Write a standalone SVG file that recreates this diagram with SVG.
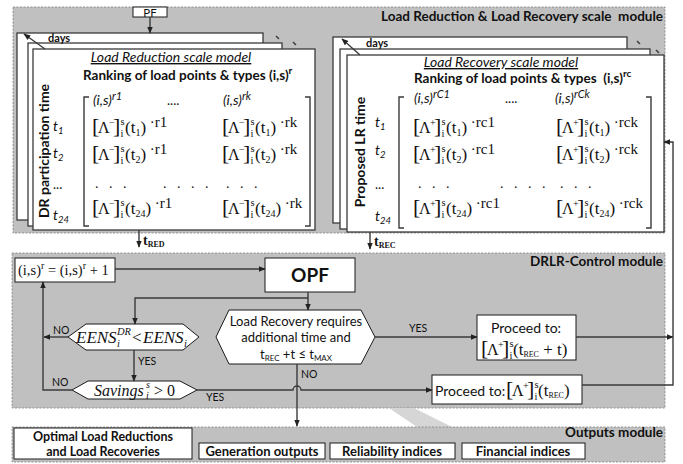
<svg xmlns="http://www.w3.org/2000/svg" width="683" height="464" viewBox="0 0 683 464">
<defs>
<style>
.mod{fill:#c0c0c0;stroke:#808080;stroke-width:0.8;stroke-dasharray:2 1.5}
.page{fill:#fff;stroke:#3a3a3a;stroke-width:1.3}
.box{fill:#fff;stroke:#1a1a1a;stroke-width:1}
.ln{fill:none;stroke:#3a3a3a;stroke-width:1.4}
.ar{marker-end:url(#ah)}
.c{font-family:Lato,"Liberation Sans",sans-serif;fill:#111}
.b{font-weight:bold}
.i{font-style:italic}
.s{font-family:"Liberation Serif","Times New Roman",serif;fill:#111}
</style>
<marker id="ah" viewBox="0 0 10 10" refX="9" refY="5" markerWidth="7" markerHeight="7" orient="auto" markerUnits="userSpaceOnUse"><path d="M0,1 L10,5 L0,9 z" fill="#222"/></marker>
<g id="lm"><text class="s" font-size="22" x="-1" y="0">[</text><text class="s" font-size="16" x="5" y="0">Λ</text><text class="s" font-size="10" x="16" y="-7">−</text><text class="s" font-size="22" x="20" y="0">]</text><text class="s" font-size="10.5" x="27.5" y="-8">s</text><text class="s" font-size="10.5" x="27.5" y="4">i</text></g>
<g id="lp"><text class="s" font-size="22" x="-1" y="0">[</text><text class="s" font-size="16" x="5" y="0">Λ</text><text class="s" font-size="10" x="16" y="-7">+</text><text class="s" font-size="22" x="20" y="0">]</text><text class="s" font-size="10.5" x="27.5" y="-8">s</text><text class="s" font-size="10.5" x="27.5" y="4">i</text></g>
</defs>
<rect width="683" height="464" fill="#fff"/>

<g id="top-module">
<rect class="mod" x="13" y="7" width="652" height="226"/>
<text class="c b" font-size="13.5" x="663" y="21" text-anchor="end" xml:space="preserve">Load Reduction &amp; Load Recovery scale  module</text>
</g>

<g id="pf">
<rect class="box" x="133" y="7" width="34" height="10"/>
<text class="c" font-size="11.5" x="150" y="16.5" text-anchor="middle">PF</text>
</g>

<g id="load-reduction-model">
<rect class="page" x="17" y="33" width="246" height="187"/>
<rect class="page" x="28" y="43" width="254" height="183"/>
<rect class="page" x="33" y="49" width="282" height="181"/>
<text class="c b" font-size="11" x="48" y="42">days</text>
<line class="ln" x1="45" y1="49" x2="24" y2="34" stroke-width="1" marker-end="url(#ah)"/>
<line class="ln" x1="276" y1="36" x2="279" y2="39" stroke-width="1"/>
<line class="ln" x1="293" y1="42" x2="296" y2="45" stroke-width="1"/>
<text class="c i" font-size="14" x="171" y="62" text-anchor="middle" text-decoration="underline">Load Reduction scale model</text>
<text class="c b" font-size="13.5" x="83" y="80">Ranking of load points &amp; types (i,s)<tspan font-size="10" dy="-6">r</tspan></text>
<text class="c b" font-size="14" transform="translate(49,151) rotate(-90)" text-anchor="middle">DR participation time</text>
<text class="c i" font-size="14" x="93" y="105">(i,s)<tspan font-size="11" dy="-5">r1</tspan></text>
<text class="c" font-size="13" x="167" y="105">....</text>
<text class="c i" font-size="14" x="223" y="105">(i,s)<tspan font-size="11" dy="-5">rk</tspan></text>
<text class="c i" font-size="14" x="53" y="131">t<tspan font-size="9.5" dy="3">1</tspan></text>
<text class="c i" font-size="14" x="53" y="158">t<tspan font-size="9.5" dy="3">2</tspan></text>
<text class="c" font-size="13" x="53" y="189">...</text>
<text class="c i" font-size="14" x="53" y="220">t<tspan font-size="9.5" dy="3">24</tspan></text>
<path class="ln" d="M89,97 H84 V226 H89 M305,97 H310 V226 H305"/>
<use href="#lm" x="93" y="133"/>
<text class="s" font-size="17" x="125" y="133">(t<tspan font-size="10" dy="3">1</tspan><tspan dy="-3">)</tspan><tspan font-size="15" dy="-6"> ·r1</tspan></text>
<use href="#lm" x="223" y="133"/>
<text class="s" font-size="17" x="255" y="133">(t<tspan font-size="10" dy="3">1</tspan><tspan dy="-3">)</tspan><tspan font-size="15" dy="-6"> ·rk</tspan></text>
<use href="#lm" x="93" y="160"/>
<text class="s" font-size="17" x="125" y="160">(t<tspan font-size="10" dy="3">2</tspan><tspan dy="-3">)</tspan><tspan font-size="15" dy="-6"> ·r1</tspan></text>
<use href="#lm" x="223" y="160"/>
<text class="s" font-size="17" x="255" y="160">(t<tspan font-size="10" dy="3">2</tspan><tspan dy="-3">)</tspan><tspan font-size="15" dy="-6"> ·rk</tspan></text>
<text class="s" font-size="14" x="95" y="188" xml:space="preserve">.   .   .</text>
<text class="s" font-size="14" x="163" y="188" xml:space="preserve">.   .   .   .</text>
<text class="s" font-size="14" x="226" y="188" xml:space="preserve">.   .   .</text>
<use href="#lm" x="93" y="214"/>
<text class="s" font-size="17" x="125" y="214">(t<tspan font-size="10" dy="3">24</tspan><tspan dy="-3">)</tspan><tspan font-size="15" dy="-6"> ·r1</tspan></text>
<use href="#lm" x="223" y="214"/>
<text class="s" font-size="17" x="255" y="214">(t<tspan font-size="10" dy="3">24</tspan><tspan dy="-3">)</tspan><tspan font-size="15" dy="-6"> ·rk</tspan></text>
</g>

<g id="load-recovery-model">
<rect class="page" x="333" y="37" width="294" height="186"/>
<rect class="page" x="340" y="49" width="310" height="180"/>
<rect class="page" x="347" y="55" width="317" height="177"/>
<text class="c b" font-size="11" x="366" y="47">days</text>
<line class="ln" x1="360" y1="55" x2="342" y2="39" stroke-width="1" marker-end="url(#ah)"/>
<line class="ln" x1="637" y1="41" x2="640" y2="44" stroke-width="1"/>
<line class="ln" x1="656" y1="50" x2="659" y2="53" stroke-width="1"/>
<text class="c i" font-size="14" x="501" y="67" text-anchor="middle" text-decoration="underline">Load Recovery scale model</text>
<text class="c b" font-size="13.5" x="414" y="83" xml:space="preserve">Ranking of load points &amp; types  (i,s)<tspan font-size="10" dy="-6">rc</tspan></text>
<text class="c b" font-size="14" transform="translate(365,152) rotate(-90)" text-anchor="middle">Proposed LR time</text>
<text class="c i" font-size="14" x="414" y="103">(i,s)<tspan font-size="11" dy="-5">rC1</tspan></text>
<text class="c" font-size="13" x="505" y="103">....</text>
<text class="c i" font-size="14" x="555" y="103">(i,s)<tspan font-size="11" dy="-5">rCk</tspan></text>
<text class="c i" font-size="14" x="375" y="127">t<tspan font-size="9.5" dy="3">1</tspan></text>
<text class="c i" font-size="14" x="375" y="155">t<tspan font-size="9.5" dy="3">2</tspan></text>
<text class="c" font-size="13" x="375" y="189">...</text>
<text class="c i" font-size="14" x="375" y="221">t<tspan font-size="9.5" dy="3">24</tspan></text>
<path class="ln" d="M404,97 H399 V228 H404 M646,97 H651 V228 H646"/>
<use href="#lp" x="414" y="133"/>
<text class="s" font-size="17" x="446" y="133">(t<tspan font-size="10" dy="3">1</tspan><tspan dy="-3">)</tspan><tspan font-size="15" dy="-6"> ·rc1</tspan></text>
<use href="#lp" x="557" y="133"/>
<text class="s" font-size="17" x="589" y="133">(t<tspan font-size="10" dy="3">1</tspan><tspan dy="-3">)</tspan><tspan font-size="15" dy="-6"> ·rck</tspan></text>
<use href="#lp" x="414" y="160"/>
<text class="s" font-size="17" x="446" y="160">(t<tspan font-size="10" dy="3">2</tspan><tspan dy="-3">)</tspan><tspan font-size="15" dy="-6"> ·rc1</tspan></text>
<use href="#lp" x="557" y="160"/>
<text class="s" font-size="17" x="589" y="160">(t<tspan font-size="10" dy="3">2</tspan><tspan dy="-3">)</tspan><tspan font-size="15" dy="-6"> ·rck</tspan></text>
<text class="s" font-size="14" x="418" y="188" xml:space="preserve">.   .   .</text>
<text class="s" font-size="14" x="500" y="188" xml:space="preserve">.   .   .   .</text>
<text class="s" font-size="14" x="560" y="188" xml:space="preserve">.   .   .</text>
<use href="#lp" x="414" y="214"/>
<text class="s" font-size="17" x="446" y="214">(t<tspan font-size="10" dy="3">24</tspan><tspan dy="-3">)</tspan><tspan font-size="15" dy="-6"> ·rc1</tspan></text>
<use href="#lp" x="557" y="214"/>
<text class="s" font-size="17" x="589" y="214">(t<tspan font-size="10" dy="3">24</tspan><tspan dy="-3">)</tspan><tspan font-size="15" dy="-6"> ·rck</tspan></text>
</g>

<g id="drlr-module">
<rect class="mod" x="12" y="253" width="653" height="155"/>
<text class="c b" font-size="13.5" x="663" y="266" text-anchor="end">DRLR-Control module</text>
</g>

<polygon points="389,408 414,408 452,427 417,427" fill="#d6d6d6"/>

<g id="outputs-module">
<rect class="mod" x="12" y="427" width="653" height="35"/>
<text class="c b" font-size="13.5" x="663" y="437" text-anchor="end">Outputs module</text>
</g>

<g id="update-rank">
<rect class="box" x="15" y="258" width="100" height="24"/>
<text class="s" font-size="14.5" x="18" y="275">(i,s)<tspan font-size="10" dy="-6">r</tspan><tspan dy="6"> = (i,s)</tspan><tspan font-size="10" dy="-6">r</tspan><tspan dy="6"> + 1</tspan></text>
</g>

<g id="opf">
<rect class="box" x="265" y="258" width="90" height="34"/>
<text class="c b" font-size="19" x="310" y="282" text-anchor="middle">OPF</text>
</g>

<g id="eens-check">
<polygon class="box" points="86,324 183,324 199,337 183,350 86,350 68,337"/>
<text class="s i" font-size="17" x="76" y="343">EENS</text>
<text class="s i" font-size="10.5" x="117" y="335">DR</text>
<text class="s i" font-size="10.5" x="117" y="347">i</text>
<text class="s" font-size="17" x="132" y="343">&lt;</text>
<text class="s i" font-size="17" x="143" y="343">EENS</text>
<text class="s i" font-size="10.5" x="184" y="347">i</text>
</g>

<g id="savings-check">
<polygon class="box" points="88,381 180,381 197,390 180,399 88,399 72,390"/>
<text class="s i" font-size="16" x="94" y="396">Savings</text>
<text class="s i" font-size="10" x="146" y="388">s</text>
<text class="s i" font-size="10" x="146" y="399">i</text>
<text class="s" font-size="16" x="154" y="396">&gt; 0</text>
</g>

<g id="recovery-check">
<polygon class="box" points="229,310 361,310 375,337 361,364 229,364 216,337"/>
<text class="c" font-size="13" x="296" y="326" text-anchor="middle">Load Recovery requires</text>
<text class="c" font-size="13" x="296" y="342" text-anchor="middle">additional time and</text>
<text class="c" font-size="13" x="296" y="359" text-anchor="middle">t<tspan font-size="8" dy="2">REC</tspan><tspan dy="-2"> +t ≤ t</tspan><tspan font-size="8" dy="2">MAX</tspan></text>
</g>

<g id="proceed-extend">
<rect class="box" x="477" y="315" width="99" height="45"/>
<text class="c" font-size="14" x="526" y="333" text-anchor="middle">Proceed to:</text>
<use href="#lp" x="482" y="355"/>
<text class="s" font-size="17" x="513" y="355">(t<tspan font-size="8" dy="2">REC</tspan><tspan dy="-2"> + t)</tspan></text>
</g>

<g id="proceed-rec">
<rect class="box" x="432" y="375" width="150" height="29"/>
<text class="c" font-size="14" x="435" y="396">Proceed to:</text>
<use href="#lp" x="507" y="396"/>
<text class="s" font-size="17" x="538" y="396">(t<tspan font-size="8" dy="2">REC</tspan><tspan dy="-2">)</tspan></text>
</g>

<g id="opt-load">
<rect class="box" x="14" y="428" width="178" height="31"/>
<text class="c b" font-size="12.5" x="103" y="441" text-anchor="middle">Optimal Load Reductions</text>
<text class="c b" font-size="12.5" x="103" y="455.5" text-anchor="middle">and Load Recoveries</text>
</g>
<g id="gen-outputs">
<rect class="box" x="199" y="443" width="126" height="16"/>
<text class="c b" font-size="13" x="262" y="456" text-anchor="middle">Generation outputs</text>
</g>
<g id="rel-indices">
<rect class="box" x="330" y="443" width="125" height="16"/>
<text class="c b" font-size="13" x="392" y="456" text-anchor="middle">Reliability indices</text>
</g>
<g id="fin-indices">
<rect class="box" x="462" y="443" width="123" height="16"/>
<text class="c b" font-size="13" x="523" y="456" text-anchor="middle">Financial indices</text>
</g>

<g id="connectors">
<line class="ln ar" x1="150" y1="17" x2="150" y2="33"/>
<line class="ln ar" x1="139" y1="230" x2="139" y2="247"/>
<text class="s b" font-size="14" x="143" y="245">t<tspan font-size="8" dy="2">RED</tspan></text>
<line class="ln ar" x1="370" y1="232" x2="370" y2="249"/>
<text class="s b" font-size="14" x="374" y="246">t<tspan font-size="8" dy="2">REC</tspan></text>
<line class="ln ar" x1="115" y1="269" x2="265" y2="269"/>
<line class="ln ar" x1="308" y1="292" x2="308" y2="310"/>
<path class="ln ar" d="M308,298 H135 V324"/>
<line class="ln ar" x1="68" y1="337" x2="44" y2="337"/>
<text class="c" font-size="10.5" x="53" y="334">NO</text>
<line class="ln ar" x1="134" y1="350" x2="134" y2="381"/>
<text class="c" font-size="10.5" x="138" y="365">YES</text>
<path class="ln ar" d="M72,390 H43 V282"/>
<text class="c" font-size="10.5" x="52" y="386">NO</text>
<path class="ln ar" d="M197,390 H293 a4,4 0 0 1 8,0 H432"/>
<text class="c" font-size="10.5" x="206" y="401">YES</text>
<line class="ln ar" x1="297" y1="364" x2="297" y2="426"/>
<text class="c" font-size="10.5" x="301" y="378">NO</text>
<line class="ln ar" x1="375" y1="337" x2="477" y2="337"/>
<text class="c" font-size="10.5" x="409" y="332">YES</text>
<line class="ln ar" x1="576" y1="337" x2="673" y2="337"/>
<path class="ln ar" d="M582,385 H673 V142 H664"/>
</g>
</svg>
